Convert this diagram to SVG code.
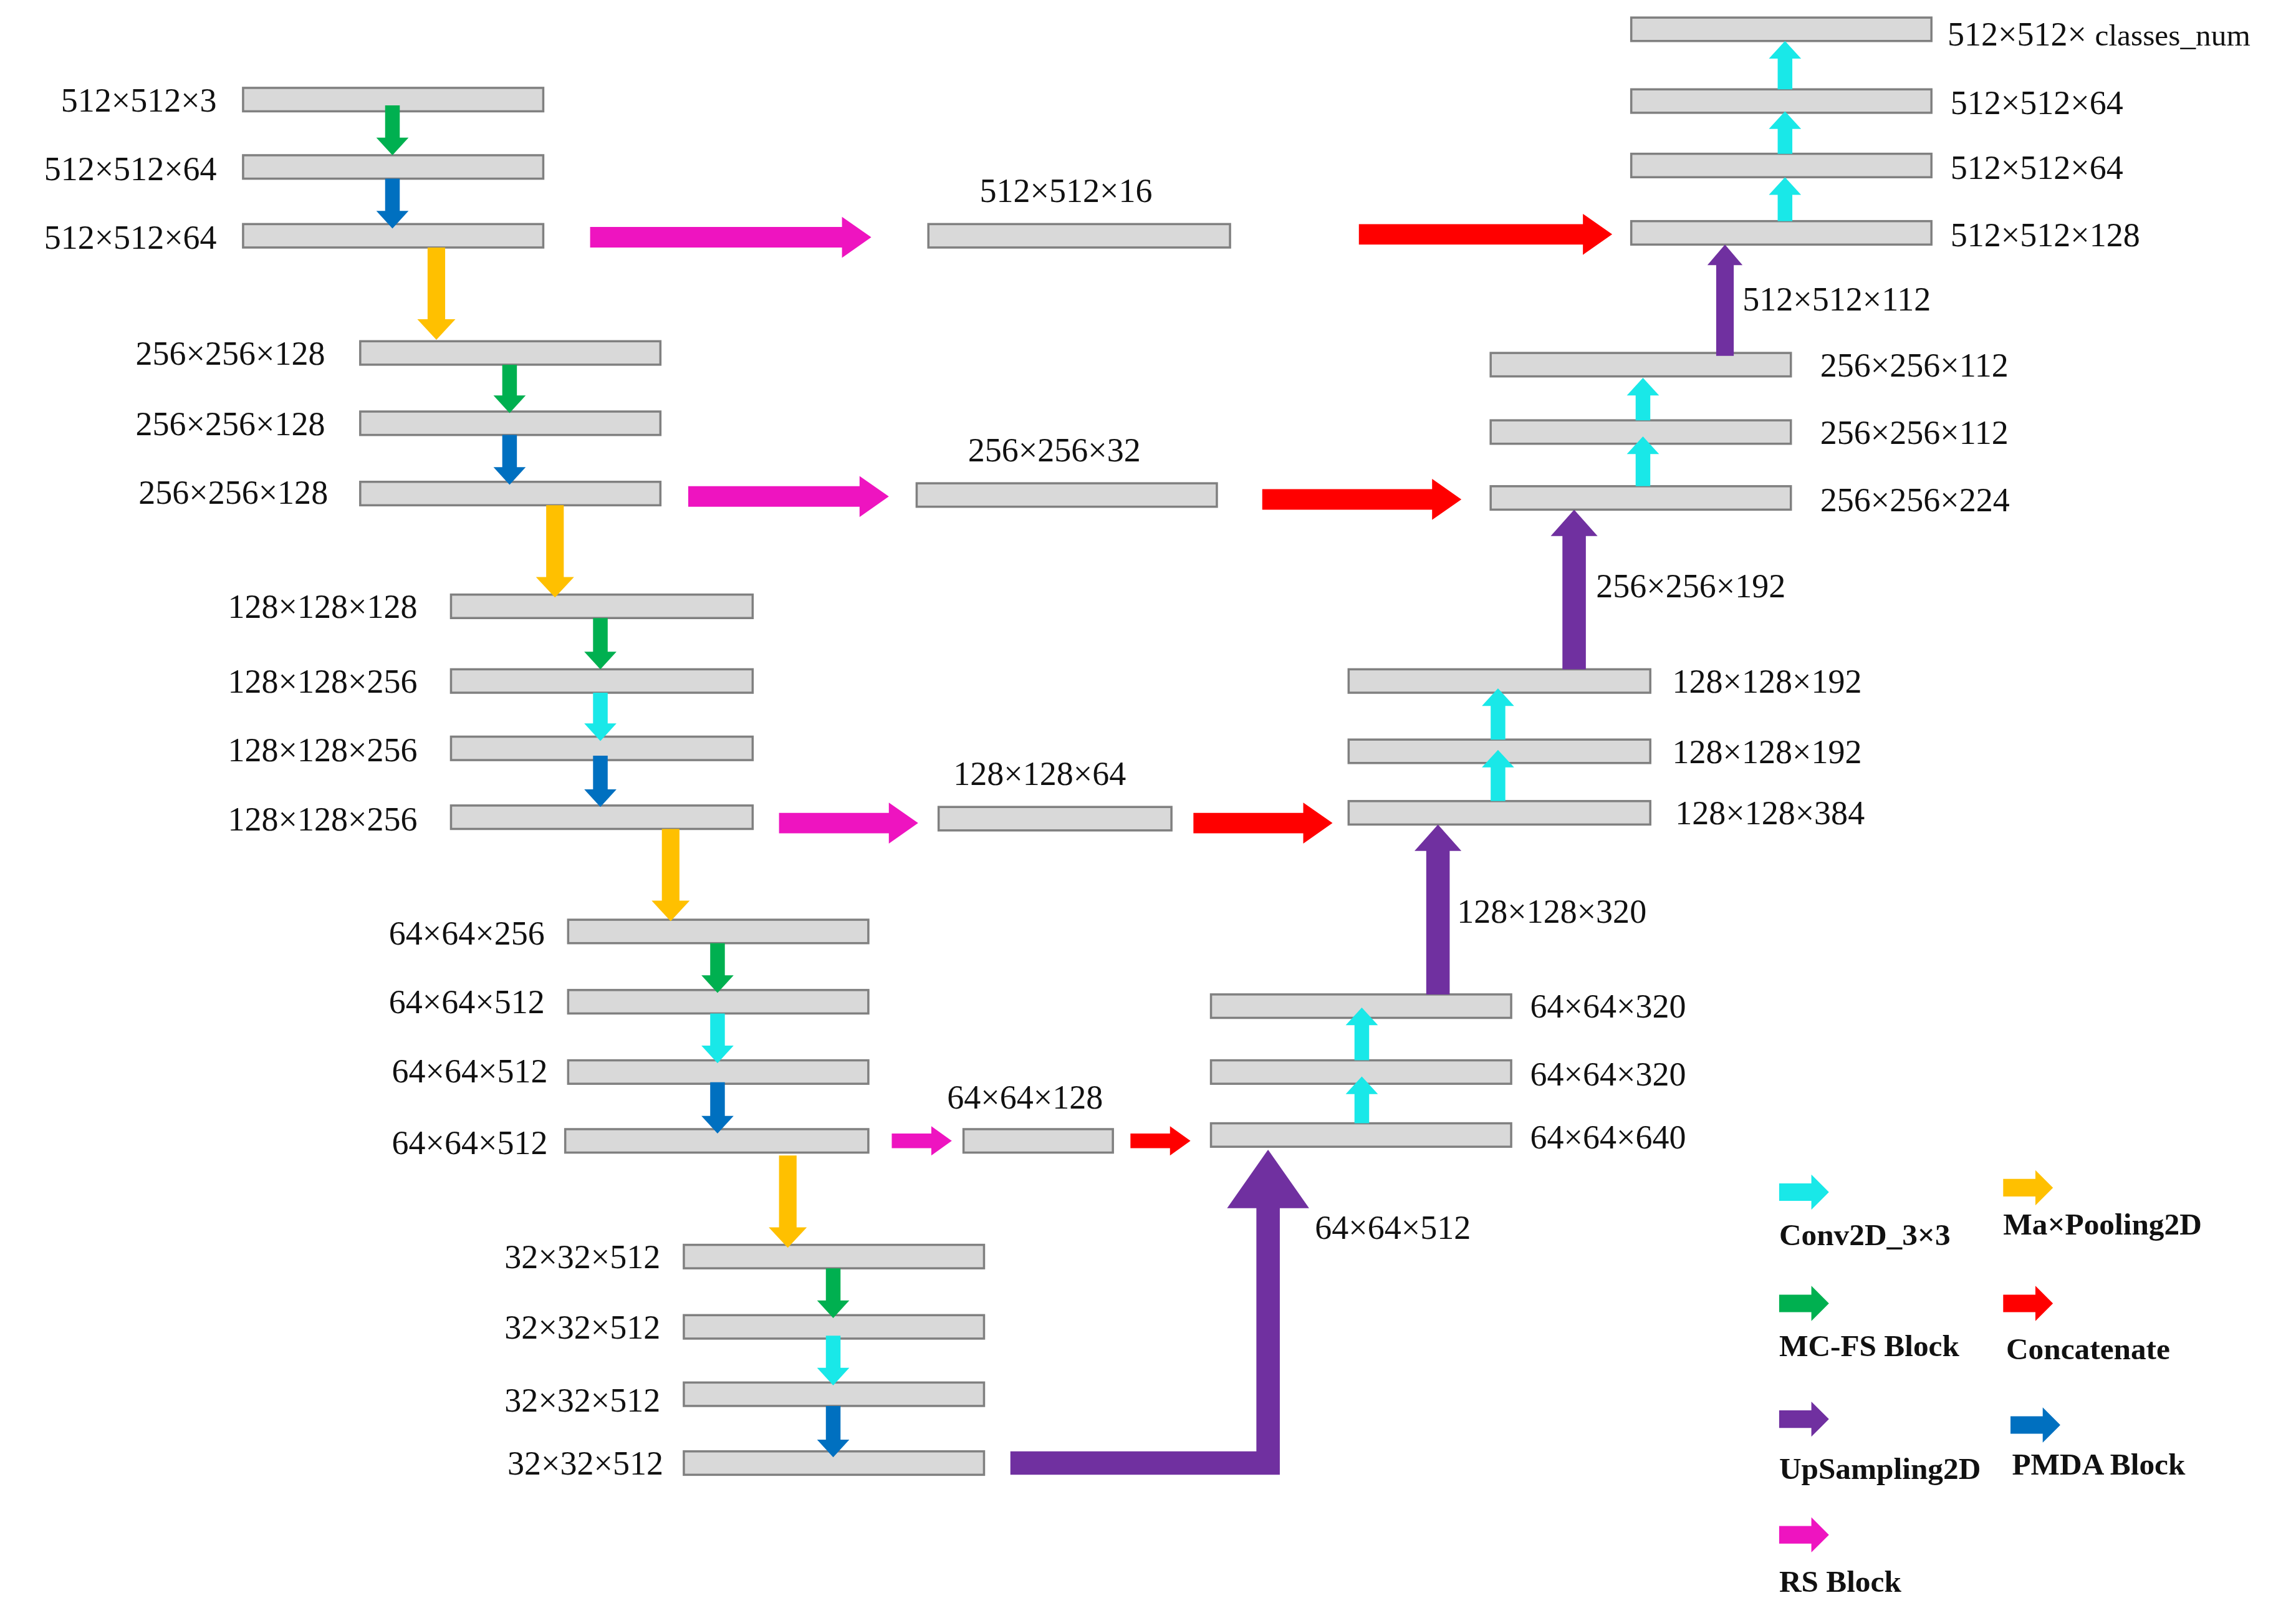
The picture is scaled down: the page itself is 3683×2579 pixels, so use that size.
<svg xmlns="http://www.w3.org/2000/svg" xmlns:xlink="http://www.w3.org/1999/xlink" width="3683" height="2579" viewBox="0 0 3683 2579">
<style>
.b{fill:#d9d9d9;stroke:#808080;stroke-width:1.5}
.t{font-family:"Liberation Serif",serif;font-size:23px;fill:#111}
.e{text-anchor:end}
.lg{font-family:"Liberation Serif",serif;font-size:21px;font-weight:bold;fill:#111}
.g{fill:#00b050}.bl{fill:#0070c0}.y{fill:#ffc000}.c{fill:#19e8e8}.p{fill:#ee14c0}.r{fill:#ff0000}.pu{fill:#7030a0}
</style>
<defs><path id="la" d="M0 -6V6H22V12L34 0L22 -12V-6Z"/></defs>
<rect width="3683" height="2579" fill="#fff"/>
<g transform="scale(2.3489)">
<g id="encoder">
<g id="a1"><rect class="b" x="166" y="60" width="205" height="16"/><text class="t e" x="148" y="76">512×512×3</text></g>
<g id="a2"><rect class="b" x="166" y="106" width="205" height="16"/><text class="t e" x="148" y="123">512×512×64</text></g>
<g id="a3"><rect class="b" x="166" y="153" width="205" height="16"/><text class="t e" x="148" y="170">512×512×64</text></g>
<g id="b1"><rect class="b" x="246" y="233" width="205" height="16"/><text class="t e" x="222" y="249">256×256×128</text></g>
<g id="b2"><rect class="b" x="246" y="281" width="205" height="16"/><text class="t e" x="222" y="297">256×256×128</text></g>
<g id="b3"><rect class="b" x="246" y="329" width="205" height="16"/><text class="t e" x="224" y="344">256×256×128</text></g>
<g id="c1"><rect class="b" x="308" y="406" width="206" height="16"/><text class="t e" x="285" y="422">128×128×128</text></g>
<g id="c2"><rect class="b" x="308" y="457" width="206" height="16"/><text class="t e" x="285" y="473">128×128×256</text></g>
<g id="c3"><rect class="b" x="308" y="503" width="206" height="16"/><text class="t e" x="285" y="520">128×128×256</text></g>
<g id="c4"><rect class="b" x="308" y="550" width="206" height="16"/><text class="t e" x="285" y="567">128×128×256</text></g>
<g id="d1"><rect class="b" x="388" y="628" width="205" height="16"/><text class="t e" x="372" y="645">64×64×256</text></g>
<g id="d2"><rect class="b" x="388" y="676" width="205" height="16"/><text class="t e" x="372" y="692">64×64×512</text></g>
<g id="d3"><rect class="b" x="388" y="724" width="205" height="16"/><text class="t e" x="374" y="739">64×64×512</text></g>
<g id="d4"><rect class="b" x="386" y="771" width="207" height="16"/><text class="t e" x="374" y="788">64×64×512</text></g>
<g id="e1"><rect class="b" x="467" y="850" width="205" height="16"/><text class="t e" x="451" y="866">32×32×512</text></g>
<g id="e2"><rect class="b" x="467" y="898" width="205" height="16"/><text class="t e" x="451" y="914">32×32×512</text></g>
<g id="e3"><rect class="b" x="467" y="944" width="205" height="16"/><text class="t e" x="451" y="964">32×32×512</text></g>
<g id="e4"><rect class="b" x="467" y="991" width="205" height="16"/><text class="t e" x="453" y="1007">32×32×512</text></g>
</g>
<g id="skip">
<g id="s1"><rect class="b" x="634" y="153" width="206" height="16"/><text class="t" x="728" y="138" text-anchor="middle">512×512×16</text></g>
<g id="s2"><rect class="b" x="626" y="330" width="205" height="16"/><text class="t" x="720" y="315" text-anchor="middle">256×256×32</text></g>
<g id="s3"><rect class="b" x="641" y="551" width="159" height="16"/><text class="t" x="710" y="536" text-anchor="middle">128×128×64</text></g>
<g id="s4"><rect class="b" x="658" y="771" width="102" height="16"/><text class="t" x="700" y="757" text-anchor="middle">64×64×128</text></g>
</g>
<g id="decoder">
<g id="f1"><rect class="b" x="1114" y="12" width="205" height="16"/><text class="t" x="1330" y="31">512×512× <tspan font-size="21">classes_num</tspan></text></g>
<g id="f2"><rect class="b" x="1114" y="61" width="205" height="16"/><text class="t" x="1332" y="78">512×512×64</text></g>
<g id="f3"><rect class="b" x="1114" y="105" width="205" height="16"/><text class="t" x="1332" y="122">512×512×64</text></g>
<g id="f4"><rect class="b" x="1114" y="151" width="205" height="16"/><text class="t" x="1332" y="168">512×512×128</text></g>
<g id="g1"><rect class="b" x="1018" y="241" width="205" height="16"/><text class="t" x="1243" y="257">256×256×112</text></g>
<g id="g2"><rect class="b" x="1018" y="287" width="205" height="16"/><text class="t" x="1243" y="303">256×256×112</text></g>
<g id="g3"><rect class="b" x="1018" y="332" width="205" height="16"/><text class="t" x="1243" y="349">256×256×224</text></g>
<g id="h1"><rect class="b" x="921" y="457" width="206" height="16"/><text class="t" x="1142" y="473">128×128×192</text></g>
<g id="h2"><rect class="b" x="921" y="505" width="206" height="16"/><text class="t" x="1142" y="521">128×128×192</text></g>
<g id="h3"><rect class="b" x="921" y="547" width="206" height="16"/><text class="t" x="1144" y="563">128×128×384</text></g>
<g id="i1"><rect class="b" x="827" y="679" width="205" height="16"/><text class="t" x="1045" y="695">64×64×320</text></g>
<g id="i2"><rect class="b" x="827" y="724" width="205" height="16"/><text class="t" x="1045" y="741">64×64×320</text></g>
<g id="i3"><rect class="b" x="827" y="767" width="205" height="16"/><text class="t" x="1045" y="784">64×64×640</text></g>
<text class="t" x="1190" y="212">512×512×112</text>
<text class="t" x="1090" y="408">256×256×192</text>
<text class="t" x="995" y="630">128×128×320</text>
<text class="t" x="898" y="846">64×64×512</text>
</g>
<g id="connectors">
<path class="g" d="M263 72H273V94H279L268 106L257 94H263Z"/>
<path class="bl" d="M263 122H273V144H279L268 156L257 144H263Z"/>
<path class="g" d="M343 249H353V270H359L348 282L337 270H343Z"/>
<path class="bl" d="M343 297H353V319H359L348 331L337 319H343Z"/>
<path class="g" d="M405 422H415V445H421L410 457L399 445H405Z"/>
<path class="c" d="M405 473H415V494H421L410 506L399 494H405Z"/>
<path class="bl" d="M405 516H415V539H421L410 551L399 539H405Z"/>
<path class="g" d="M485 644H495V666H501L490 678L479 666H485Z"/>
<path class="c" d="M485 692H495V714H501L490 726L479 714H485Z"/>
<path class="bl" d="M485 739H495V762H501L490 774L479 762H485Z"/>
<path class="g" d="M564 866H574V888H580L569 900L558 888H564Z"/>
<path class="c" d="M564 912H574V934H580L569 946L558 934H564Z"/>
<path class="bl" d="M564 960H574V983H580L569 995L558 983H564Z"/>
<path class="y" d="M292 169H304V218H311L298 232L285 218H292Z"/>
<path class="y" d="M373 345H385V394H392L379 408L366 394H373Z"/>
<path class="y" d="M452 566H464V615H471L458 629L445 615H452Z"/>
<path class="y" d="M532 789H544V838H551L538 852L525 838H532Z"/>
<path class="p" d="M403 155V169H575V176L595 162L575 148V155Z"/>
<path class="r" d="M928 153V167H1081V174L1101 160L1081 146V153Z"/>
<path class="p" d="M470 332V346H587V353L607 339L587 325V332Z"/>
<path class="r" d="M862 334V348H978V355L998 341L978 327V334Z"/>
<path class="p" d="M532 555V569H607V576L627 562L607 548V555Z"/>
<path class="r" d="M815 555V569H890V576L910 562L890 548V555Z"/>
<path class="p" d="M609 774V784H636V789L650 779L636 769V774Z"/>
<path class="r" d="M772 774V784H799V789L813 779L799 769V774Z"/>
<path class="c" d="M1214 151H1224V133H1230L1219 121L1208 133H1214Z"/>
<path class="c" d="M1214 105H1224V88H1230L1219 76L1208 88H1214Z"/>
<path class="c" d="M1214 61H1224V40H1230L1219 28L1208 40H1214Z"/>
<path class="c" d="M1117 332H1127V310H1133L1122 298L1111 310H1117Z"/>
<path class="c" d="M1117 287H1127V270H1133L1122 258L1111 270H1117Z"/>
<path class="c" d="M1018 547H1028V524H1034L1023 512L1012 524H1018Z"/>
<path class="c" d="M1018 505H1028V482H1034L1023 470L1012 482H1018Z"/>
<path class="c" d="M925 767H935V747H941L930 735L919 747H925Z"/>
<path class="c" d="M925 724H935V700H941L930 688L919 700H925Z"/>
<path class="pu" d="M1172 243H1184V181H1190L1178 167L1166 181H1172Z"/>
<path class="pu" d="M1067 457H1083V366H1091L1075 348L1059 366H1067Z"/>
<path class="pu" d="M974 679H990V581H998L982 563L966 581H974Z"/>
<path class="pu" d="M690 991H858V825H838L866 785L894 825H874V1007H690Z"/>
</g>
<g id="legend">
<use xlink:href="#la" class="c" x="1215" y="814"/><text class="lg" x="1215" y="850">Conv2D_3×3</text>
<use xlink:href="#la" class="y" x="1368" y="811"/><text class="lg" x="1368" y="843">Ma×Pooling2D</text>
<use xlink:href="#la" class="g" x="1215" y="890"/><text class="lg" x="1215" y="926">MC-FS Block</text>
<use xlink:href="#la" class="r" x="1368" y="890"/><text class="lg" x="1370" y="928">Concatenate</text>
<use xlink:href="#la" class="pu" x="1215" y="969"/><text class="lg" x="1215" y="1010">UpSampling2D</text>
<use xlink:href="#la" class="bl" x="1373" y="973"/><text class="lg" x="1374" y="1007">PMDA Block</text>
<use xlink:href="#la" class="p" x="1215" y="1048"/><text class="lg" x="1215" y="1087">RS Block</text>
</g>
</g>
</svg>
